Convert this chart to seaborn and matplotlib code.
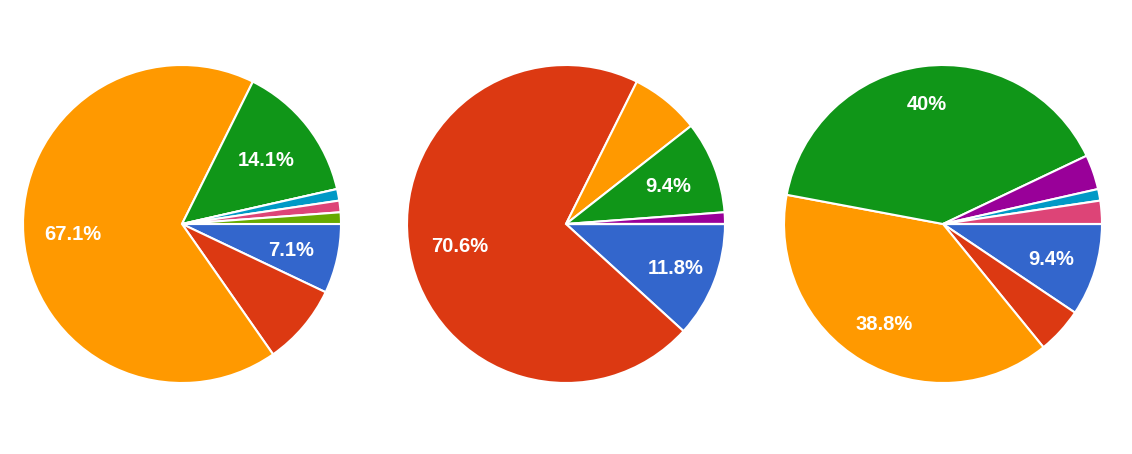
import matplotlib
matplotlib.use("Agg")
import matplotlib.pyplot as plt
import numpy as np
import seaborn as sns

# response counts per category (n = 85 in each pie), clockwise from 3 o'clock
categories = ["A", "B", "C", "D", "E", "F", "G", "H"]
pie1_counts = [6, 7, 57, 12, 0, 1, 1, 1]
pie2_counts = [10, 60, 6, 8, 1, 0, 0, 0]
pie3_counts = [8, 4, 33, 34, 3, 1, 2, 0]

# which slices get a percentage label
pie1_labels = ["7.1%", "", "67.1%", "14.1%", "", "", "", ""]
pie2_labels = ["11.8%", "70.6%", "", "9.4%", "", "", "", ""]
pie3_labels = ["9.4%", "", "38.8%", "40%", "", "", "", ""]

# label distance from centre, as a fraction of the radius (style only)
pie1_dist = [0.70, 0.68, 0.69, 0.67, 0.68, 0.68, 0.68, 0.68]
pie2_dist = [0.74, 0.68, 0.68, 0.69, 0.68, 0.68, 0.68, 0.68]
pie3_dist = [0.71, 0.68, 0.72, 0.77, 0.68, 0.68, 0.68, 0.68]

palette = sns.color_palette(["#3366cc", "#dc3912", "#ff9900", "#109618",
                             "#990099", "#0099c6", "#dd4477", "#66aa00"])

plt.rcParams['font.family'] = ['Liberation Sans', 'DejaVu Sans']

W, H = 1132, 454
fig = plt.figure(figsize=(W / 100, H / 100), dpi=100)
fig.patch.set_facecolor("white")

radius_px = 159
centers = [(182, 224), (566, 224), (943, 224)]
pies = [(pie1_counts, pie1_labels, pie1_dist),
        (pie2_counts, pie2_labels, pie2_dist),
        (pie3_counts, pie3_labels, pie3_dist)]

for (cx, cy), (counts, labels, dists) in zip(centers, pies):
    ax = fig.add_axes([(cx - radius_px) / W, (H - cy - radius_px) / H,
                       2 * radius_px / W, 2 * radius_px / H])
    ax.pie(counts, colors=palette, startangle=0, counterclock=False,
           radius=1.0, wedgeprops=dict(edgecolor="white", linewidth=1.5))
    total = sum(counts)
    # labels along the middle of each slice
    start = 0.0
    for v, lab, d in zip(counts, labels, dists):
        frac = v / total
        mid = -(start + frac / 2) * 2 * np.pi
        start += frac
        if lab:
            ax.text(d * np.cos(mid), d * np.sin(mid) - 0.015, lab, color="white",
                    fontsize=14.5, fontweight="semibold", ha="center", va="center")
    ax.set_xlim(-1, 1)
    ax.set_ylim(-1, 1)
    ax.set_aspect("equal")
    ax.axis("off")

fig.savefig("out.png", dpi=100, facecolor="white")
